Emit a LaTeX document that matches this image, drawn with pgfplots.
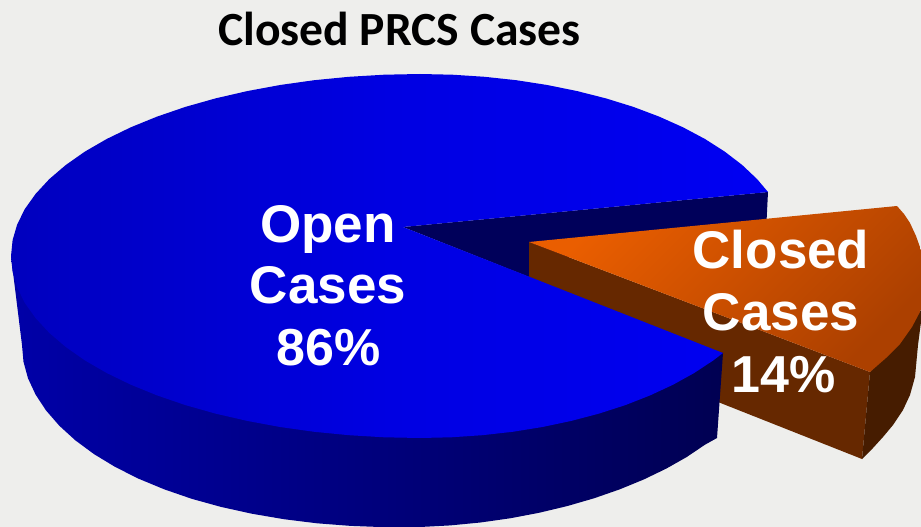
\documentclass[border=0pt]{standalone}
\usepackage{fontspec}
\setmainfont{Liberation Sans}
\newfontfamily\titlefont{Carlito}
\usepackage{pgfplots}
\pgfplotsset{compat=1.18}
\definecolor{bg}{HTML}{EEEEEC}
\definecolor{navy}{HTML}{00005A}
\definecolor{topL}{HTML}{0000BE}
\definecolor{topM}{HTML}{0000E2}
\definecolor{topR}{HTML}{0000F2}
\definecolor{wallL}{HTML}{0000A8}
\definecolor{wallR}{HTML}{000052}
\definecolor{orL}{HTML}{EA5E00}
\definecolor{orR}{HTML}{AC4000}
\definecolor{orS}{HTML}{662800}
\definecolor{orD}{HTML}{461C00}
\begin{document}
\begin{tikzpicture}
\begin{axis}[
  scale only axis, width=921pt, height=527pt,
  xmin=0, xmax=921, ymin=0, ymax=527, y dir=reverse,
  axis lines=none, clip=true,
  axis background/.style={fill=bg},
]
% back wall of the blue slice
\addplot[draw=none, fill=navy] coordinates {(403,227)(768,192)(766,232)(529,262)(529,277)(403,227)};
% orange side walls
\addplot[draw=none, fill=orS] coordinates {(529,242)(870,372)(862,459)(718,402)(529,277)(529,242)};
\addplot[draw=none, fill=orD] coordinates {(870,372)(921,310)(921,322)(918,345)(915,377)(910,395)(903,410)(893,425)(883,437)(873,448)(862,459)(870,372)};
% orange top
\addplot[draw=none, left color=orL, right color=orR, shading angle=45] coordinates {(529,242)(897,206)(904,214)(910,223)(916,236)(921,250)(923,280)(921,310)(912,327)(900,344)(886,358)(870,372)(529,242)};
% blue outer wall
\addplot[draw=none, left color=wallL, right color=wallR] coordinates {(11,256)(22,345)(23.5,361.8)(28,378.3)(35.6,394.6)(46,410.4)(59.3,425.7)(75.3,440.3)(94,454.1)(115.1,466.9)(138.6,478.7)(164.2,489.3)(191.7,498.8)(221,506.9)(251.8,513.7)(284,519.2)(317,523.3)(351,525.9)(385.3,527.2)(420,527)(450.3,525.4)(480.4,522.5)(510.1,518.3)(539,512.8)(567.1,506.1)(594,498.3)(619.6,489.4)(643.7,479.5)(666.1,468.7)(686.6,457.1)(705,444.7)(717,438)(723,353)(600,345)(300,345)(11,256)};
% blue top
\addplot[draw=none, left color=topL, right color=topR, middle color=topM] coordinates {(403,227)(768,192)(757.1,179.1)(742.2,165)(724.7,151.6)(705,139)(683,127.3)(659.1,116.6)(633.4,106.9)(606,98.4)(577.2,91.1)(547.2,85)(516.3,80.2)(484.6,76.8)(452.4,74.7)(420,74)(384.3,74.7)(349,76.8)(314.2,80.2)(280.1,85)(247.2,91.1)(215.5,98.4)(185.4,106.9)(157.1,116.6)(130.8,127.3)(106.7,139)(84.9,151.6)(65.8,165)(49.3,179.1)(35.7,193.8)(24.9,208.9)(17.2,224.4)(12.6,240.1)(11,256)(12.6,271.9)(17.2,287.6)(24.9,303.1)(35.7,318.2)(49.3,332.9)(65.8,347)(84.9,360.4)(106.7,373)(130.8,384.7)(157.1,395.4)(185.4,405.1)(215.5,413.6)(247.2,420.9)(280.1,427)(314.2,431.8)(349,435.2)(384.3,437.3)(420,438)(451.2,437.3)(482.2,435.2)(512.7,431.8)(542.4,427)(571.3,420.9)(599,413.6)(625.4,405.1)(650.1,395.4)(673.1,384.7)(694.2,373)(713.3,360.4)(723,353)(403,227)};
% labels
\node[anchor=base, font=\titlefont\bfseries\fontsize{47.6}{47.6}\selectfont, text=black] at (axis cs:399.5,45.5) {Closed PRCS Cases};
\node[anchor=base, font=\bfseries\fontsize{53}{53}\selectfont, text=white] at (axis cs:328,242) {Open};
\node[anchor=base, font=\bfseries\fontsize{53}{53}\selectfont, text=white] at (axis cs:328,303) {Cases};
\node[anchor=base, font=\bfseries\fontsize{52}{52}\selectfont, text=white] at (axis cs:329,365) {86\%};
\node[anchor=base, font=\bfseries\fontsize{53}{53}\selectfont, text=white] at (axis cs:781,268) {Closed};
\node[anchor=base, font=\bfseries\fontsize{53}{53}\selectfont, text=white] at (axis cs:781,330) {Cases};
\node[anchor=base, font=\bfseries\fontsize{52}{52}\selectfont, text=white] at (axis cs:784,392) {14\%};
\end{axis}
\end{tikzpicture}
\end{document}
